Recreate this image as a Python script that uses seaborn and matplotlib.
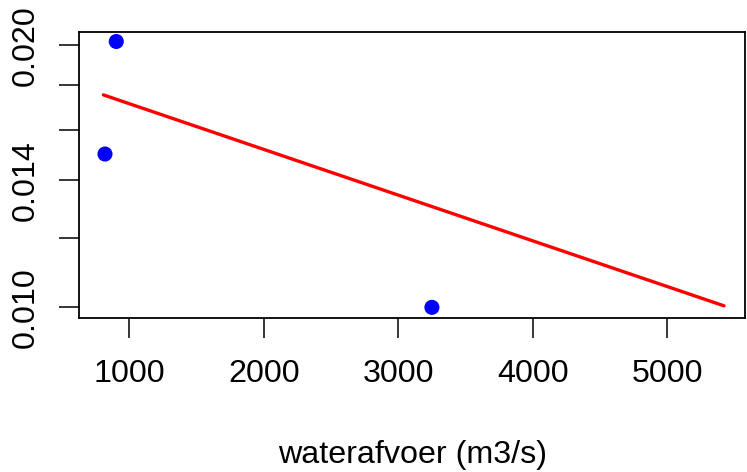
import matplotlib
matplotlib.use("Agg")
import matplotlib.pyplot as plt
import seaborn as sns
import pandas as pd
from matplotlib.ticker import FixedLocator, FixedFormatter, NullLocator

# data
afvoer = [819, 903, 3250]
ruwheid = [0.0150, 0.0202, 0.0100]
lijn_x = [807, 5422]
lijn_y = [0.01754, 0.01004]
x_ticks = [1000, 2000, 3000, 4000, 5000]
y_ticks = [0.010, 0.012, 0.014, 0.016, 0.018, 0.020]
y_labels = ["0.010", "", "0.014", "", "", "0.020"]
x_label = "waterafvoer (m3/s)"

sns.set_style("white")
plt.rcParams["font.family"] = ["Liberation Sans", "DejaVu Sans"]
plt.rcParams["text.color"] = "black"
plt.rcParams["axes.labelcolor"] = "black"
plt.rcParams["xtick.color"] = "black"
plt.rcParams["ytick.color"] = "black"

fig = plt.figure(figsize=(7.47, 4.72), dpi=100)
ax = fig.add_axes([79.3 / 747, (472 - 317.7) / 472, (745 - 79.3) / 747, (317.7 - 31.7) / 472])

pts = pd.DataFrame({"x": afvoer, "y": ruwheid})
ln = pd.DataFrame({"x": lijn_x, "y": lijn_y})
sns.lineplot(data=ln, x="x", y="y", ax=ax, color="red", linewidth=2.4, zorder=2)
sns.scatterplot(data=pts, x="x", y="y", ax=ax, color="blue", s=118, edgecolor="none", zorder=3)

ax.set_yscale("log")
ax.set_xlim(628, 5578)
ax.set_ylim(0.00973, 0.02073)
ax.set_xticks(x_ticks)
ax.set_xticklabels([str(t) for t in x_ticks])
ax.yaxis.set_major_locator(FixedLocator(y_ticks))
ax.yaxis.set_major_formatter(FixedFormatter(y_labels))
ax.yaxis.set_minor_locator(NullLocator())
ax.set_xlabel(x_label, fontsize=23.2, labelpad=37, color="black")
ax.set_ylabel("")

for s in ax.spines.values():
    s.set_visible(True)
    s.set_color("black")
    s.set_linewidth(1.3)

ax.tick_params(axis="both", which="major", length=14.4, width=1.1, color="black",
               labelcolor="black", labelsize=23.2, direction="out", left=True, bottom=True)
ax.tick_params(axis="x", pad=15)
ax.tick_params(axis="y", pad=13)
for lab in ax.get_yticklabels():
    lab.set_rotation(90)
    lab.set_va("center")

fig.savefig("out.png", dpi=100)
